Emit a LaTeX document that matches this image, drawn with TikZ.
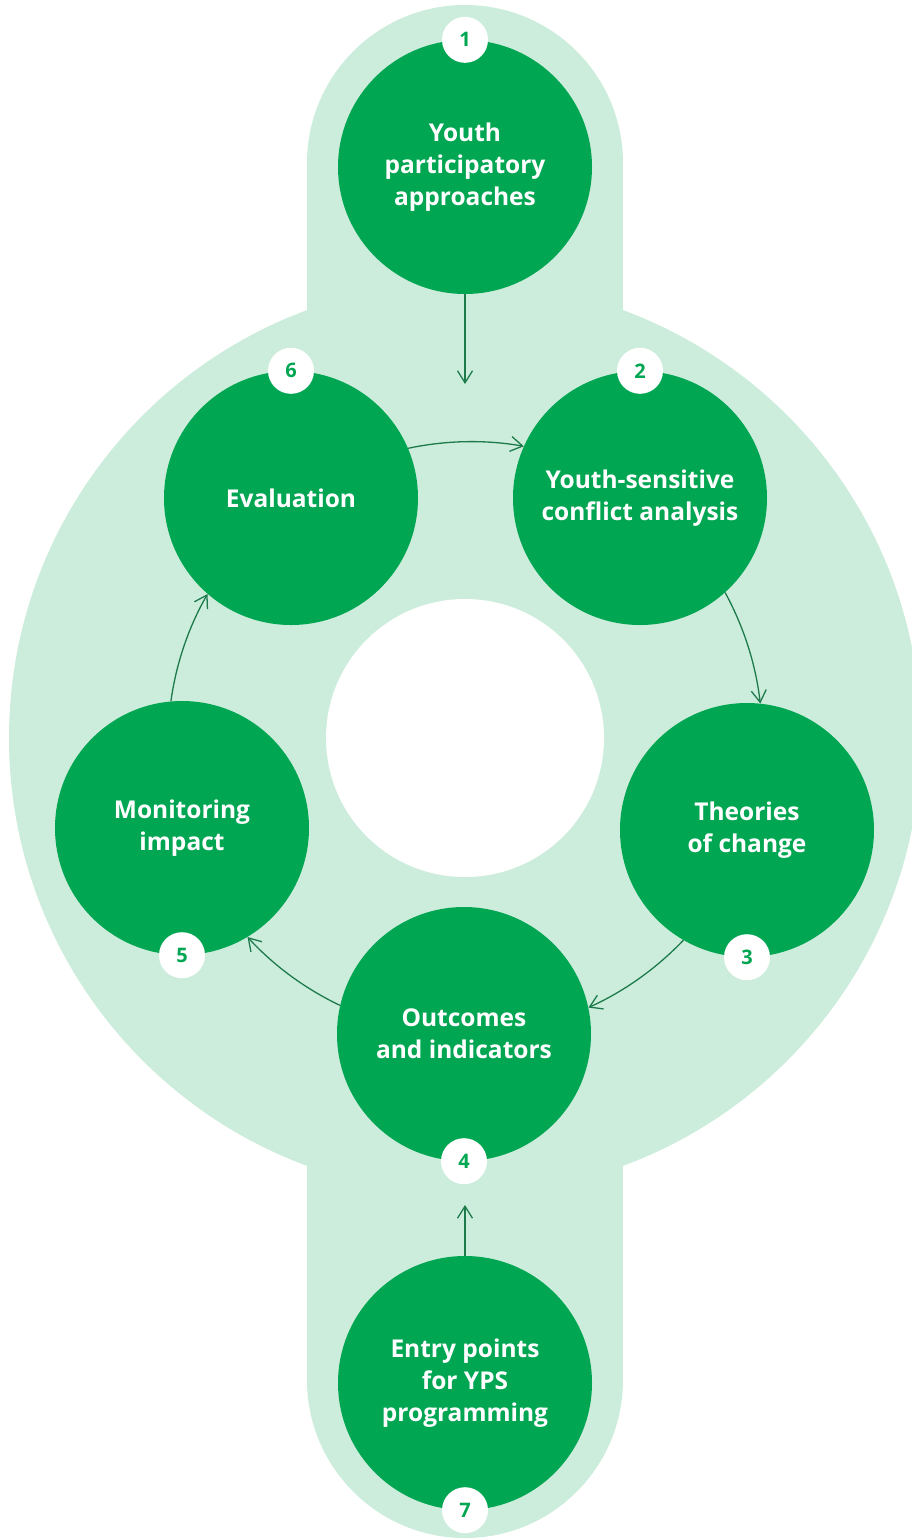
\documentclass[tikz,border=0pt]{standalone}
\usepackage{fontspec}
\setmainfont{Open Sans}
\usetikzlibrary{arrows.meta}

\definecolor{ypsgreen}{HTML}{00A651}
\definecolor{ypslight}{HTML}{CDEDDC}
\definecolor{ypsarrow}{HTML}{1D7A4B}

\tikzset{
	stage/.style={circle, fill=ypsgreen, minimum size=254pt, inner sep=0pt, align=center, text=white, font=\fontsize{24.5}{32}\selectfont\bfseries},
	badge/.style={circle, fill=white, minimum size=46pt, inner sep=0pt, text=ypsgreen, font=\fontsize{20}{22}\selectfont\bfseries},
	flow/.style={draw=ypsarrow, line width=1.3pt, -{Straight Barb[length=12pt,width=15pt]}}
}

\begin{document}
\begin{tikzpicture}[x=1pt,y=-1pt]
	\useasboundingbox (0,0) rectangle (912,1540);
	% background
	\fill[ypslight] (465,738) circle (456pt);
	\fill[ypslight] (307,163) rectangle (623,1380);
	\fill[ypslight] (465,163) circle (158pt);
	\fill[ypslight] (465,1380) circle (158pt);
	\fill[white] (465,738) circle (139pt);

	% stages
	\node[stage] (c1) at (465,167) {Youth\\participatory\\approaches};
	\node[stage] (c2) at (640,498) {Youth-sensitive\\conflict analysis};
	\node[stage] (c3) at (747,830) {Theories\\of change};
	\node[stage] (c4) at (464,1034) {Outcomes\\and indicators};
	\node[stage] (c5) at (182,828) {Monitoring\\impact};
	\node[stage] (c6) at (291,498) {Evaluation};
	\node[stage] (c7) at (465,1383) {Entry points\\for YPS\\programming};

	\node[badge] (b1) at (c1.north) {1};
	\node[badge] (b2) at (c2.north) {2};
	\node[badge] (b3) at (c3.south) {3};
	\node[badge] (b4) at (c4.south) {4};
	\node[badge] (b5) at (c5.south) {5};
	\node[badge] (b6) at (c6.north) {6};
	\node[badge] (b7) at (c7.south) {7};

	% arrows
	\coordinate (in1) at (465,384);
	\coordinate (in4) at (465,1205);
	\draw[flow] (c1) -- (in1);
	\draw[flow] (c7) -- (in4);
	\draw[flow] (c6.23.5) to[bend left=11, looseness=0.86] (c2.156.5);
	\draw[flow] (c2.-48.5) to[bend left=11, looseness=0.86] (c3.84.5);
	\draw[flow] (c3.-120.5) to[bend left=11, looseness=0.86] (c4.12.5);
	\draw[flow] (c4.167.5) to[bend left=11, looseness=0.86] (c5.-59.5);
	\draw[flow] (c5.95.5) to[bend left=11, looseness=0.86] (c6.-131.5);
\end{tikzpicture}
\end{document}
